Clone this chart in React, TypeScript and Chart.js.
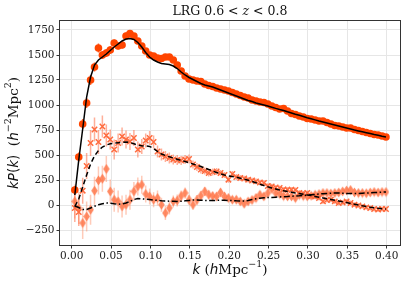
import React, { useEffect, useRef } from 'react';
import { Chart, registerables } from 'chart.js';
Chart.register(...registerables);

const kValues = [
  0.004, 0.009, 0.014, 0.019, 0.024, 0.029, 0.034, 0.039, 0.044, 0.049,
  0.054, 0.059, 0.064, 0.069, 0.074, 0.079, 0.084, 0.089, 0.094, 0.099,
  0.104, 0.109, 0.114, 0.119, 0.124, 0.129, 0.134, 0.139, 0.144, 0.149,
  0.154, 0.159, 0.164, 0.169, 0.174, 0.179, 0.184, 0.189, 0.194, 0.199,
  0.204, 0.209, 0.214, 0.219, 0.224, 0.229, 0.234, 0.239, 0.244, 0.249,
  0.254, 0.259, 0.264, 0.269, 0.274, 0.279, 0.284, 0.289, 0.294, 0.299,
  0.304, 0.309, 0.314, 0.319, 0.324, 0.329, 0.334, 0.339, 0.344, 0.349,
  0.354, 0.359, 0.364, 0.369, 0.374, 0.379, 0.384, 0.389, 0.394, 0.399,
];

const monoData = [
  150, 480, 810, 1020, 1250, 1380, 1570, 1500, 1520, 1550,
  1620, 1590, 1600, 1690, 1715, 1690, 1640, 1590, 1540, 1500,
  1490, 1470, 1465, 1480, 1480, 1450, 1400, 1340, 1290, 1260,
  1250, 1240, 1235, 1210, 1195, 1185, 1170, 1160, 1150, 1140,
  1125, 1110, 1095, 1080, 1070, 1050, 1040, 1030, 1025, 1010,
  990, 975, 960, 965, 940, 915, 905, 890, 880, 865,
  860, 850, 840, 840, 825, 810, 795, 790, 780, 770,
  770, 755, 745, 735, 725, 715, 705, 700, 690, 680,
];
const monoErr = [
  40, 45, 50, 50, 50, 45, 45, 40, 40, 40,
  35, 35, 35, 35, 35, 30, 30, 30, 30, 30,
  25, 25, 25, 25, 25, 25, 25, 25, 25, 25,
  22, 22, 22, 22, 22, 22, 22, 22, 22, 22,
  20, 20, 20, 20, 20, 20, 20, 20, 20, 20,
  18, 18, 18, 18, 18, 18, 18, 18, 18, 18,
  16, 16, 16, 16, 16, 16, 16, 16, 16, 16,
  15, 15, 15, 15, 15, 15, 15, 15, 15, 15,
];

const quadData = [
  -30, -70, 143, 390, 620, 755, 630, 785, 695, 655,
  555, 620, 685, 655, 635, 670, 555, 585, 645, 670,
  630, 535, 505, 485, 470, 455, 450, 445, 455, 460,
  405, 380, 355, 340, 320, 330, 335, 320, 300, 253,
  310, 280, 270, 265, 253, 245, 236, 225, 220, 190,
  186, 175, 170, 155, 153, 153, 150, 120, 115, 120,
  90, 85, 70, 36, 50, 53, 36, 20, 25, 36,
  20, 3, -5, -14, -24, -30, -40, -45, -40, -40,
];
const quadErr = [
  140, 140, 130, 130, 130, 120, 120, 110, 110, 100,
  100, 95, 90, 90, 85, 80, 80, 75, 70, 70,
  65, 60, 60, 55, 55, 50, 50, 45, 45, 45,
  40, 40, 40, 35, 35, 35, 35, 30, 30, 30,
  30, 30, 30, 28, 28, 28, 28, 28, 28, 28,
  26, 26, 26, 26, 26, 26, 26, 26, 26, 26,
  25, 25, 25, 25, 25, 25, 25, 25, 25, 25,
  24, 24, 24, 24, 24, 24, 24, 24, 24, 24,
];

const hexData = [
  36, -30, -180, -115, -47, 143, 246, 263, 360, 136,
  53, 36, -14, 3, 53, 136, 186, 203, 110, 86,
  53, 70, 3, -80, -30, 36, 45, 90, 120, 53,
  3, 50, 93, 136, 103, 90, 86, 126, 86, 70,
  53, 53, 36, 13, 36, 50, 70, 103, 86, 120,
  160, 120, 110, 90, 86, 86, 70, 100, 90, 86,
  93, 103, 110, 120, 120, 115, 120, 125, 136, 145,
  150, 125, 120, 120, 118, 125, 130, 125, 130, 130,
];
const hexErr = [
  170, 160, 160, 150, 150, 140, 140, 130, 130, 120,
  120, 110, 110, 100, 100, 95, 90, 90, 85, 80,
  75, 75, 70, 70, 65, 60, 60, 55, 55, 50,
  50, 50, 45, 45, 45, 40, 40, 40, 40, 35,
  35, 35, 35, 35, 35, 34, 34, 34, 34, 34,
  33, 33, 33, 33, 33, 32, 32, 32, 32, 32,
  31, 31, 31, 31, 31, 30, 30, 30, 30, 30,
  30, 30, 30, 30, 30, 30, 30, 30, 30, 30,
];

const monoModel = [
  100, 450, 760, 1080, 1280, 1400, 1450, 1480, 1510, 1545,
  1580, 1610, 1640, 1660, 1665, 1655, 1625, 1580, 1525, 1480,
  1450, 1430, 1415, 1410, 1405, 1390, 1365, 1330, 1300, 1275,
  1255, 1235, 1215, 1200, 1190, 1180, 1165, 1150, 1135, 1120,
  1105, 1090, 1075, 1060, 1045, 1035, 1020, 1010, 1000, 990,
  978, 966, 955, 945, 932, 920, 908, 897, 885, 873,
  862, 851, 840, 830, 820, 810, 800, 790, 780, 770,
  760, 750, 741, 732, 723, 714, 705, 697, 688, 680,
];
const quadModel = [
  -15, 60, 180, 300, 410, 490, 545, 580, 600, 612,
  618, 622, 626, 630, 625, 612, 598, 592, 590, 586,
  565, 535, 510, 495, 482, 470, 458, 445, 435, 422,
  410, 398, 385, 370, 355, 340, 325, 312, 300, 290,
  285, 278, 268, 258, 248, 236, 222, 208, 195, 182,
  170, 160, 150, 142, 135, 128, 121, 115, 108, 101,
  94, 86, 78, 70, 62, 55, 48, 40, 32, 24,
  16, 8, 0, -8, -15, -22, -28, -33, -37, -40,
];
const hexModel = [
  -10, -25, -45, -45, -30, -12, 2, 12, 20, 18,
  12, 8, 10, 20, 35, 55, 65, 62, 58, 55,
  50, 46, 42, 40, 38, 37, 36, 38, 42, 46,
  50, 50, 48, 46, 45, 45, 46, 47, 47, 46,
  45, 42, 40, 40, 45, 55, 62, 68, 72, 74,
  76, 78, 80, 83, 85, 88, 90, 92, 95, 98,
  102, 106, 110, 113, 116, 118, 120, 120, 118, 116,
  115, 115, 116, 118, 120, 122, 124, 126, 128, 130,
];

const xTicks = [0, 0.05, 0.1, 0.15, 0.2, 0.25, 0.3, 0.35, 0.4];
const yTicks = [-250, 0, 250, 500, 750, 1000, 1250, 1500, 1750];

const MONO_COLOR = '#ff4500';
const QUAD_COLOR = '#ff6a3d';
const HEX_COLOR = 'rgba(255,120,75,0.85)';

const SERIF = '"DejaVu Serif", serif';
const SANS = '"DejaVu Sans", sans-serif';

type Run = { t: string; font: string; dy?: number };

function drawRuns(ctx: CanvasRenderingContext2D, runs: Run[], cx: number, cy: number) {
  let total = 0;
  for (const r of runs) { ctx.font = r.font; total += ctx.measureText(r.t).width; }
  let x = cx - total / 2;
  ctx.textBaseline = 'middle';
  ctx.textAlign = 'left';
  for (const r of runs) {
    ctx.font = r.font;
    ctx.fillText(r.t, x, cy + (r.dy || 0));
    x += ctx.measureText(r.t).width;
  }
}

function pts(ys: number[]) {
  return kValues.map((k, i) => ({ x: k, y: ys[i] }));
}

function makeDiamond(): HTMLCanvasElement {
  const c = document.createElement('canvas');
  c.width = 7; c.height = 11;
  const g = c.getContext('2d')!;
  g.fillStyle = HEX_COLOR;
  g.beginPath();
  g.moveTo(3.5, 0.5); g.lineTo(6.8, 5.5); g.lineTo(3.5, 10.5); g.lineTo(0.2, 5.5);
  g.closePath(); g.fill();
  return c;
}

const errorBarPlugin = {
  id: 'errbars',
  beforeDatasetsDraw(chart: any) {
    const { ctx, chartArea: a, scales } = chart;
    const xs = scales.x, ys = scales.y;
    ctx.save();
    ctx.beginPath();
    ctx.rect(a.left, a.top, a.right - a.left, a.bottom - a.top);
    ctx.clip();
    const sets = [
      { v: hexData, e: hexErr, c: 'rgba(255,140,100,0.45)' },
      { v: quadData, e: quadErr, c: 'rgba(255,110,70,0.55)' },
      { v: monoData, e: monoErr, c: 'rgba(255,69,0,0.8)' },
    ];
    ctx.lineWidth = 1.5;
    for (const s of sets) {
      ctx.strokeStyle = s.c;
      ctx.beginPath();
      s.v.forEach((v, i) => {
        const px = xs.getPixelForValue(kValues[i]);
        ctx.moveTo(px, ys.getPixelForValue(v - s.e[i]));
        ctx.lineTo(px, ys.getPixelForValue(v + s.e[i]));
      });
      ctx.stroke();
    }
    ctx.restore();
  },
};

const decorPlugin = {
  id: 'decor',
  afterDraw(chart: any) {
    const { ctx, chartArea: a } = chart;
    ctx.save();
    ctx.strokeStyle = '#333';
    ctx.lineWidth = 1;
    ctx.strokeRect(Math.round(a.left) - 0.5, Math.round(a.top) - 0.5,
      Math.round(a.right - a.left) + 1, Math.round(a.bottom - a.top) + 1);
    ctx.fillStyle = '#111';
    const cx = (a.left + a.right) / 2;
    drawRuns(ctx, [
      { t: 'LRG 0.6 < ', font: `12.5px ${SERIF}` },
      { t: 'z', font: `italic 12.5px ${SERIF}` },
      { t: ' < 0.8', font: `12.5px ${SERIF}` },
    ], cx, 12);
    drawRuns(ctx, [
      { t: 'k', font: `italic 13.5px ${SANS}` },
      { t: ' (', font: `13.5px ${SERIF}` },
      { t: 'h', font: `italic 13.5px ${SANS}` },
      { t: 'Mpc', font: `13.5px ${SERIF}` },
      { t: '\u22121', font: `9.5px ${SERIF}`, dy: -5 },
      { t: ')', font: `13.5px ${SERIF}` },
    ], cx, 270);
    ctx.translate(14, (a.top + a.bottom) / 2);
    ctx.rotate(-Math.PI / 2);
    drawRuns(ctx, [
      { t: 'kP', font: `italic 13.5px ${SANS}` },
      { t: '(', font: `13.5px ${SANS}` },
      { t: 'k', font: `italic 13.5px ${SANS}` },
      { t: ')', font: `13.5px ${SANS}` },
      { t: '  (', font: `13.5px ${SERIF}` },
      { t: 'h', font: `italic 13.5px ${SANS}` },
      { t: '\u22122', font: `9.5px ${SERIF}`, dy: -5 },
      { t: 'Mpc', font: `13.5px ${SERIF}` },
      { t: '2', font: `9.5px ${SERIF}`, dy: -5 },
      { t: ')', font: `13.5px ${SERIF}` },
    ], 0, 0);
    ctx.restore();
  },
};

export default function App() {
  const ref = useRef<HTMLCanvasElement>(null);
  useEffect(() => {
    if (!ref.current) return;
    const diamond = makeDiamond();
    const tickFont = { family: SERIF, size: 10.5 };
    const chart = new Chart(ref.current, {
      type: 'scatter',
      data: {
        datasets: [
          { data: pts(monoModel), showLine: true, borderColor: '#000', borderWidth: 1.5, pointRadius: 0, order: 0 } as any,
          { data: pts(quadModel), showLine: true, borderColor: '#000', borderWidth: 1.5, borderDash: [5, 3], pointRadius: 0, order: 0 } as any,
          { data: pts(hexModel), showLine: true, borderColor: '#000', borderWidth: 1.5, borderDash: [6, 2.5, 1.5, 2.5], pointRadius: 0, order: 0 } as any,
          { data: pts(monoData), pointStyle: 'circle', pointRadius: 3.8, backgroundColor: MONO_COLOR, borderColor: MONO_COLOR, borderWidth: 0, order: 1 } as any,
          { data: pts(quadData), pointStyle: 'crossRot', pointRadius: 3.8, borderColor: QUAD_COLOR, borderWidth: 1.5, order: 2 } as any,
          { data: pts(hexData), pointStyle: diamond, pointRadius: 4, order: 3 } as any,
        ],
      },
      options: {
        responsive: false,
        animation: false,
        devicePixelRatio: 1,
        layout: { padding: { left: 0, right: 7, top: 21, bottom: 0 } },
        plugins: { legend: { display: false }, tooltip: { enabled: false }, title: { display: false } },
        scales: {
          x: {
            type: 'linear', min: -0.0148, max: 0.4168,
            afterFit: (s: any) => { s.height = 41; },
            afterBuildTicks: (s: any) => { s.ticks = xTicks.map((v) => ({ value: v })); },
            ticks: { callback: (v: any) => Number(v).toFixed(2), font: tickFont, color: '#222', padding: 1, maxRotation: 0, autoSkip: false },
            grid: { color: '#e6e6e6', tickColor: '#333', tickLength: 3.5, lineWidth: 1 },
            border: { display: false },
          },
          y: {
            type: 'linear', min: -400, max: 1840,
            afterFit: (s: any) => { s.width = 60; },
            afterBuildTicks: (s: any) => { s.ticks = yTicks.map((v) => ({ value: v })); },
            ticks: { callback: (v: any) => (v < 0 ? '\u2212' + Math.abs(v) : String(v)), font: tickFont, color: '#222', padding: 2, autoSkip: false },
            grid: { color: '#e6e6e6', tickColor: '#333', tickLength: 3.5, lineWidth: 1 },
            border: { display: false },
          },
        },
      },
      plugins: [errorBarPlugin, decorPlugin],
    } as any);
    return () => chart.destroy();
  }, []);
  return (
    <div style={{ position: 'fixed', left: 0, top: 0, width: 407, height: 286, background: '#fff' }}>
      <canvas ref={ref} width={407} height={286} style={{ display: 'block' }} />
    </div>
  );
}
